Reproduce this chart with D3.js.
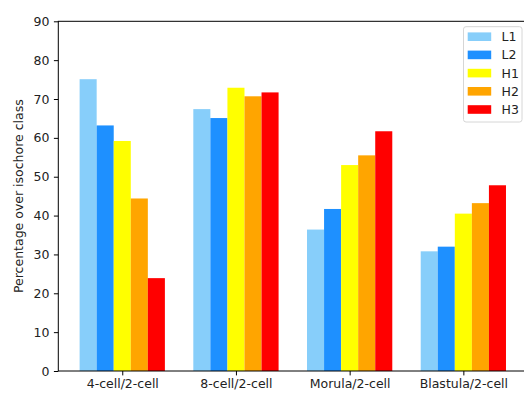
<!DOCTYPE html>
<html>
<head>
<meta charset="utf-8">
<script src="https://cdn.jsdelivr.net/npm/d3@7"></script>
<style>
body { margin: 0; background: #fff; }
text { font-family: "DejaVu Sans", sans-serif; }
</style>
</head>
<body>
<div id="chart"></div>
<script>
// grouped bars, percentage over isochore class

const categories = ["4-cell/2-cell", "8-cell/2-cell", "Morula/2-cell", "Blastula/2-cell"]
const seriesNames = ["L1", "L2", "H1", "H2", "H3"]
const seriesColors = ["#87cefa", "#1e90ff", "#ffff00", "#ffa500", "#ff0000"]
const L1 = [75.1, 67.4, 36.4, 30.8]
const L2 = [63.2, 65.1, 41.7, 32.0]
const H1 = [59.2, 72.9, 53.0, 40.5]
const H2 = [44.4, 70.7, 55.5, 43.2]
const H3 = [23.9, 71.7, 61.7, 47.8]
const yTicks = [0, 10, 20, 30, 40, 50, 60, 70, 80, 90]

const seriesValues = [L1, L2, H1, H2, H3]
const barW = 0.15
const fs = 12.5

const width = 524, height = 393
const mLeft = 58.3, mRight = 527.3, mTop = 21.3, mBottom = 371

const svg = d3.select("#chart")
    .append("svg")
    .attr("width", width)
    .attr("height", height)

const x = d3.scaleLinear().domain([-0.5625, 3.5625]).range([mLeft, mRight])
const y = d3.scaleLinear().domain([0, 90]).range([mBottom, mTop])

// bars
seriesValues.forEach(function(vals, s) {
    svg.append("g")
        .selectAll("rect")
        .data(vals)
        .join("rect")
        .attr("x", (d, i) => x(i - 0.375 + s * barW))
        .attr("width", x(barW) - x(0))
        .attr("y", d => y(d))
        .attr("height", d => y(0) - y(d))
        .attr("fill", seriesColors[s])
})

// axes
const xAxis = d3.axisBottom(x)
    .tickValues([0, 1, 2, 3])
    .tickFormat(i => categories[i])
    .tickSize(4.4)
    .tickPadding(4)
const yAxis = d3.axisLeft(y)
    .tickValues(yTicks)
    .tickSize(4.4)
    .tickPadding(4.4)

const gx = svg.append("g").attr("transform", "translate(0," + mBottom + ")").call(xAxis)
const gy = svg.append("g").attr("transform", "translate(" + mLeft + ",0)").call(yAxis)
;[gx, gy].forEach(g => {
    g.select(".domain").remove()
    g.selectAll("text").attr("font-size", fs).attr("fill", "#222")
        .style("font-family", "'DejaVu Sans', sans-serif")
    g.selectAll("line").attr("stroke", "#000").attr("stroke-width", 1)
})

// frame
svg.append("rect")
    .attr("x", mLeft).attr("y", mTop)
    .attr("width", mRight - mLeft).attr("height", mBottom - mTop)
    .attr("fill", "none").attr("stroke", "#000").attr("stroke-width", 1)

svg.append("text")
    .attr("transform", "translate(22.5," + ((mTop + mBottom) / 2) + ") rotate(-90)")
    .attr("text-anchor", "middle")
    .attr("font-size", fs)
    .attr("fill", "#222")
    .text("Percentage over isochore class")

// legend
const leg = svg.append("g")
leg.append("rect")
    .attr("x", 463.5).attr("y", 26.7)
    .attr("width", 58.5).attr("height", 95.3)
    .attr("rx", 2.5)
    .attr("fill", "#fff").attr("fill-opacity", 0.8)
    .attr("stroke", "#d6d6d6").attr("stroke-width", 1)
seriesNames.forEach(function(name, s) {
    const cy = 36.7 + s * 18.2
    leg.append("rect")
        .attr("x", 467.7).attr("y", cy - 4.3)
        .attr("width", 23.5).attr("height", 8.6)
        .attr("fill", seriesColors[s])
    leg.append("text")
        .attr("x", 501.5).attr("y", cy)
        .attr("dy", "0.36em")
        .attr("font-size", fs)
        .attr("fill", "#222")
        .text(name)
})
</script>
</body>
</html>
